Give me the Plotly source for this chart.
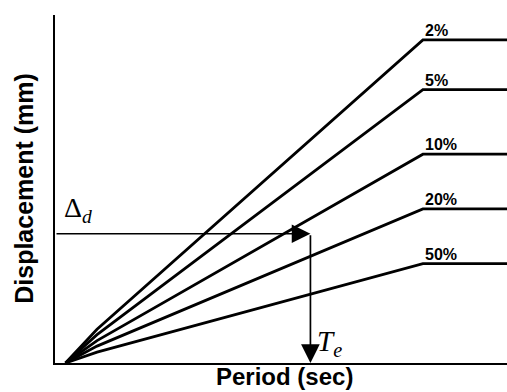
import plotly.graph_objects as go

# Displacement design spectra for several damping levels
labels = ["2%", "5%", "10%", "20%", "50%"]
period_pts = [0.1, 0.4, 3.5, 4.3]          # start, knee, corner period, end (sec)
knee_disp = [68, 57, 45, 34, 22]           # displacement at the knee (mm)
plateau_disp = [650, 550, 420, 310, 200]   # constant-displacement plateau (mm)

# Design displacement and the resulting effective period
delta_d = 260
t_e = 2.43

x_range = [0, 4.3]
y_range = [0, 700]

fig = go.Figure()

for lab, kd, pd in zip(labels, knee_disp, plateau_disp):
    fig.add_trace(go.Scatter(
        x=period_pts,
        y=[0, kd, pd, pd],
        mode="lines",
        line=dict(color="black", width=2.8),
        name=lab,
        showlegend=False,
        hoverinfo="skip",
    ))
    fig.add_annotation(
        x=period_pts[2], y=pd, xref="x", yref="y",
        text=f"<b>{lab}</b>", showarrow=False,
        xanchor="left", yanchor="bottom", xshift=0, yshift=-1,
        font=dict(family="Liberation Sans, Arial", size=16, color="black"),
    )

# Horizontal arrow from the design displacement to the curve
fig.add_annotation(
    x=t_e, y=delta_d, ax=0, ay=delta_d,
    xref="x", yref="y", axref="x", ayref="y",
    showarrow=True, arrowhead=2, arrowsize=2.2, arrowwidth=1.7,
    arrowcolor="black", text="", standoff=0,
)
# Vertical arrow down to the effective period
fig.add_annotation(
    x=t_e, y=0, ax=t_e, ay=delta_d,
    xref="x", yref="y", axref="x", ayref="y",
    showarrow=True, arrowhead=2, arrowsize=2.2, arrowwidth=1.7,
    arrowcolor="black", text="", standoff=0,
)

serif = "Liberation Serif, Times New Roman"
fig.add_annotation(
    x=0.07, y=delta_d, xref="x", yref="y",
    text="Δ<sub><i>d</i></sub>", showarrow=False,
    xanchor="left", yanchor="bottom", yshift=5,
    font=dict(family=serif, size=28, color="black"),
)
fig.add_annotation(
    x=t_e, y=0, xref="x", yref="y",
    text="<i>T</i><sub><i>e</i></sub>", showarrow=False,
    xanchor="left", yanchor="bottom", xshift=5, yshift=0,
    font=dict(family=serif, size=29, color="black"),
)

sans = "Liberation Sans, Arial"
fig.add_annotation(
    x=-0.069, y=0.503, xref="paper", yref="paper",
    text="<b>Displacement (mm)</b>", showarrow=False, textangle=-90,
    xanchor="center", yanchor="middle",
    font=dict(family=sans, size=25, color="black"),
)
fig.add_annotation(
    x=0.507, y=-0.04, xref="paper", yref="paper",
    text="<b>Period (sec)</b>", showarrow=False,
    xanchor="center", yanchor="middle",
    font=dict(family=sans, size=24, color="black"),
)

axis_common = dict(
    showgrid=False, zeroline=False, showticklabels=False, ticks="",
    showline=True, linecolor="black", linewidth=2,
)
fig.update_xaxes(range=x_range, **axis_common)
fig.update_yaxes(range=y_range, **axis_common)

fig.update_layout(
    width=507, height=392,
    margin=dict(l=55, r=0, t=15, b=29),
    paper_bgcolor="white", plot_bgcolor="white",
)

fig.write_html("out.html")
